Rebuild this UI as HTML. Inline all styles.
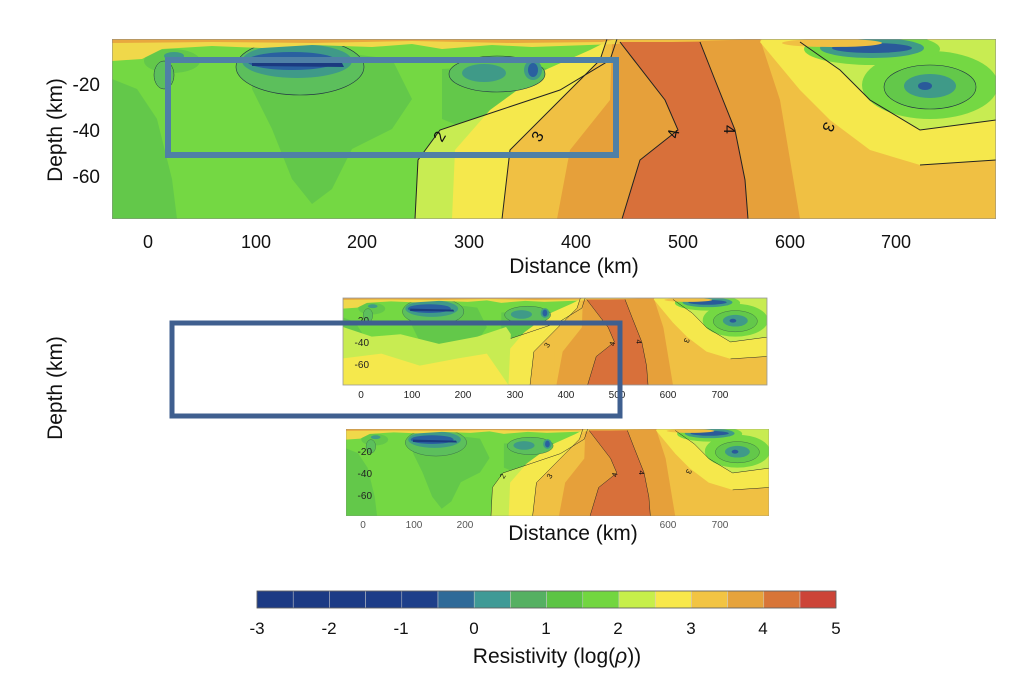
<!DOCTYPE html>
<html><head><meta charset="utf-8"><style>
html,body{margin:0;padding:0;background:#fff;}
svg{display:block;font-family:"Liberation Sans",sans-serif;}
</style></head><body>
<svg width="1024" height="685" viewBox="0 0 1024 685" xmlns="http://www.w3.org/2000/svg">
<defs>
<clipPath id="cp"><rect x="0" y="0" width="884" height="180"/></clipPath>
<g id="plot" clip-path="url(#cp)">
  <rect x="0" y="0" width="884" height="180" fill="#74d843"/>
  <path d="M0,40 L25,50 L45,80 L60,140 L65,180 L0,180Z" fill="#63c84a"/>
  <path d="M140,15 L200,10 L280,20 L300,60 L280,90 L240,110 L220,150 L200,165 L180,140 L160,90 L140,50Z" fill="#63c84a"/>
  <path d="M330,30 L420,25 L470,40 L440,80 L380,100 L330,80Z" fill="#63c84a"/>
  <path d="M303,180 L306,121 L328,91 L388,71 L448,51 L498,21 L505,0 L884,0 L884,180Z" fill="#c8ec52"/>
  <path d="M340,180 L343,111 L378,71 L433,31 L478,11 L500,0 L884,0 L884,180Z" fill="#f5e84c"/>
  <path d="M390,180 L398,111 L448,61 L488,21 L495,0 L884,0 L884,180Z" fill="#f0c043"/>
  <path d="M445,180 L458,111 L498,61 L500,5 L648,0 L668,61 L688,180Z" fill="#e6a03a"/>
  <path d="M510,180 L528,121 L566,91 L553,61 L508,3 L588,3 L603,41 L623,91 L633,141 L636,180Z" fill="#d8703a"/>
  <path d="M648,3 L688,51 L718,81 L758,111 L808,126 L884,121 L884,0 L650,0Z" fill="#f5e84c"/>
  <path d="M688,3 L728,31 L758,61 L808,91 L884,81 L884,0Z" fill="#c8ec52"/>
  <ellipse cx="818" cy="46" rx="68" ry="34" fill="#74d843"/>
  <ellipse cx="818" cy="48" rx="46" ry="22" fill="#63c84a" stroke="#234" stroke-width="0.6"/>
  <ellipse cx="818" cy="47" rx="26" ry="12" fill="#3f9a88"/>
  <ellipse cx="813" cy="47" rx="7" ry="4" fill="#2a5a9a"/>
  <ellipse cx="760" cy="10" rx="68" ry="16" fill="#74d843"/>
  <ellipse cx="760" cy="9" rx="52" ry="10" fill="#3f9a88"/>
  <ellipse cx="760" cy="9" rx="40" ry="5" fill="#2a5a9a"/>
  <ellipse cx="720" cy="4" rx="50" ry="4" fill="#f0c043"/>
  <ellipse cx="60" cy="22" rx="28" ry="12" fill="#63c84a"/>
  <ellipse cx="62" cy="17" rx="10" ry="4" fill="#3f9a88"/>
  <ellipse cx="52" cy="36" rx="10" ry="14" fill="#5cbf5c" stroke="#234" stroke-width="0.5"/>
  <ellipse cx="188" cy="28" rx="64" ry="28" fill="#5cbf5c" stroke="#234" stroke-width="0.6"/>
  <ellipse cx="185" cy="22" rx="55" ry="17" fill="#3f9a88"/>
  <ellipse cx="180" cy="22" rx="45" ry="9" fill="#2a60a0"/>
  <path d="M140,22 L230,24 L232,28 L140,27Z" fill="#1b3a80"/>
  <ellipse cx="385" cy="35" rx="48" ry="18" fill="#5cbf5c" stroke="#234" stroke-width="0.6"/>
  <ellipse cx="372" cy="34" rx="22" ry="9" fill="#3f9a88"/>
  <ellipse cx="421" cy="31" rx="9" ry="10" fill="#3f9a88"/>
  <ellipse cx="421" cy="31" rx="5" ry="7" fill="#2a60a0"/>
  <path d="M0,0 L505,0 L505,5 L420,8 L380,6 L330,10 L300,5 L260,8 L200,6 L150,9 L100,7 L50,10 L30,20 L0,22Z" fill="#f0d84a"/>
  <path d="M0,0 L505,0 L490,3 L400,4 L300,2 L200,4 L100,3 L0,4Z" fill="#e8a83e"/>
  <g fill="none" stroke="#222" stroke-width="1">
    <polyline points="303,180 306,121 328,91 388,71 448,51 498,21 505,0"/>
    <polyline points="390,180 398,111 448,61 488,21 495,0"/>
    <polyline points="510,180 528,121 566,91 553,61 508,3"/>
    <polyline points="636,180 633,141 623,91 603,41 588,3"/>
    <polyline points="688,3 728,31 758,61 808,91 884,81"/>
    <polyline points="808,126 884,121"/>
  </g>
  <g font-size="16" fill="#111">
    <text x="330" y="104" transform="rotate(-60 330 104)">2</text>
    <text x="428" y="104" transform="rotate(-60 428 104)">3</text>
    <text x="566" y="100" transform="rotate(-80 566 100)">4</text>
    <text x="612" y="86" transform="rotate(90 612 86)">4</text>
    <text x="713" y="82" transform="rotate(110 713 82)">3</text>
  </g>
  <rect x="0" y="0" width="884" height="180" fill="none" stroke="#888" stroke-width="1"/>
</g>
</defs>

<g transform="translate(112,39)"><use href="#plot"/></g>
<rect x="168" y="60" width="448" height="95" fill="none" stroke="#4f80a6" stroke-width="6"/>
<g font-size="19" fill="#111" text-anchor="end">
  <text x="100" y="91">-20</text><text x="100" y="137">-40</text><text x="100" y="183">-60</text>
</g>
<g font-size="18" fill="#111" text-anchor="middle">
  <text x="148" y="248">0</text><text x="256" y="248">100</text><text x="362" y="248">200</text>
  <text x="469" y="248">300</text><text x="576" y="248">400</text><text x="683" y="248">500</text>
  <text x="790" y="248">600</text><text x="896" y="248">700</text>
</g>
<text x="574" y="273" font-size="21" text-anchor="middle" fill="#111">Distance (km)</text>
<text transform="translate(62,130) rotate(-90)" font-size="21" text-anchor="middle" fill="#111">Depth (km)</text>

<g transform="translate(343,298) scale(0.4796,0.4833)">
  <use href="#plot"/>
  <path d="M0,60 L60,80 L120,75 L200,95 L280,80 L340,60 L350,75 L345,180 L0,180Z" fill="#c8ec52"/>
  <path d="M0,125 L80,115 L160,140 L240,125 L300,115 L345,180 L0,180Z" fill="#f5e84c"/>
  <path d="M395,180 L400,130 L440,100 L440,180Z" fill="#f0c043"/>
</g>
<rect x="343" y="298" width="424" height="87" fill="none" stroke="#999" stroke-width="0.8"/>
<g font-size="10" fill="#222" text-anchor="end">
  <text x="369" y="324">-20</text><text x="369" y="346">-40</text><text x="369" y="368">-60</text>
</g>
<g font-size="10" fill="#222" text-anchor="middle">
  <text x="361" y="398">0</text><text x="412" y="398">100</text><text x="463" y="398">200</text>
  <text x="515" y="398">300</text><text x="566" y="398">400</text><text x="617" y="398">500</text>
  <text x="668" y="398">600</text><text x="720" y="398">700</text>
</g>
<rect x="172" y="323" width="448" height="93" fill="none" stroke="#3f5f8f" stroke-width="5"/>
<text transform="translate(62,388) rotate(-90)" font-size="21" text-anchor="middle" fill="#111">Depth (km)</text>

<g transform="translate(346,429) scale(0.4785,0.4833)"><use href="#plot"/></g>
<g font-size="10" fill="#222" text-anchor="end">
  <text x="372" y="455">-20</text><text x="372" y="477">-40</text><text x="372" y="499">-60</text>
</g>
<g font-size="10" fill="#555" text-anchor="middle">
  <text x="363" y="528">0</text><text x="414" y="528">100</text><text x="465" y="528">200</text>
  <text x="668" y="528">600</text><text x="720" y="528">700</text>
</g>
<text x="573" y="540" font-size="21" text-anchor="middle" fill="#111">Distance (km)</text>

<g stroke="#ccc" stroke-width="0.5">
  <rect x="257" y="591" width="36.2" height="17" fill="#1c3a84"/>
  <rect x="293.2" y="591" width="36.2" height="17" fill="#1c3a84"/>
  <rect x="329.4" y="591" width="36.2" height="17" fill="#1c3b86"/>
  <rect x="365.6" y="591" width="36.2" height="17" fill="#1d3d88"/>
  <rect x="401.8" y="591" width="36.2" height="17" fill="#1e3f8a"/>
  <rect x="438" y="591" width="36.2" height="17" fill="#2f6a98"/>
  <rect x="474.2" y="591" width="36.2" height="17" fill="#3f9a96"/>
  <rect x="510.4" y="591" width="36.2" height="17" fill="#55b062"/>
  <rect x="546.6" y="591" width="36.2" height="17" fill="#5cc444"/>
  <rect x="582.8" y="591" width="36.2" height="17" fill="#72d640"/>
  <rect x="619" y="591" width="36.2" height="17" fill="#c6ef4a"/>
  <rect x="655.2" y="591" width="36.2" height="17" fill="#f8e84a"/>
  <rect x="691.4" y="591" width="36.2" height="17" fill="#f2c443"/>
  <rect x="727.6" y="591" width="36.2" height="17" fill="#e6a33c"/>
  <rect x="763.8" y="591" width="36.2" height="17" fill="#d87538"/>
  <rect x="800" y="591" width="36" height="17" fill="#cc4438"/>
</g>
<rect x="257" y="591" width="579" height="17" fill="none" stroke="#555" stroke-width="0.8"/>
<g font-size="17" fill="#111" text-anchor="middle">
  <text x="257" y="634">-3</text><text x="329" y="634">-2</text><text x="401" y="634">-1</text>
  <text x="474" y="634">0</text><text x="546" y="634">1</text><text x="618" y="634">2</text>
  <text x="691" y="634">3</text><text x="763" y="634">4</text><text x="836" y="634">5</text>
</g>
<text x="557" y="663" font-size="21" text-anchor="middle" fill="#111">Resistivity (log(<tspan font-style="italic">ρ</tspan>))</text>
</svg>
</body></html>
